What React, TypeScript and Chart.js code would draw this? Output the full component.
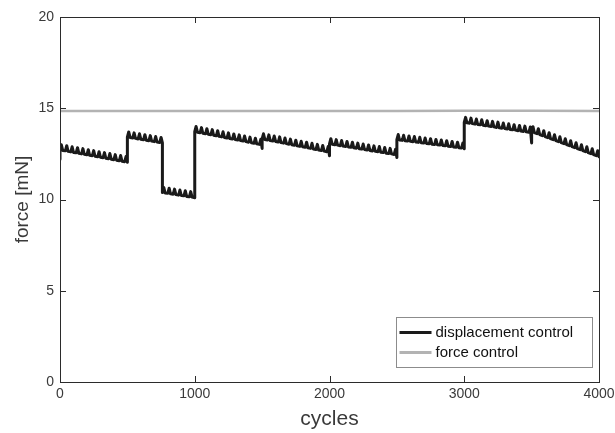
import React, { useEffect, useRef } from "react";
import { Chart, registerables } from "chart.js";

Chart.register(...registerables);

// ---- data ----
const xTickValues = [0, 1000, 2000, 3000, 4000];
const yTickValues = [0, 5, 10, 15, 20];
const baseStep = 20; // cycles between baseline samples inside a segment
const peakStep = 40; // cycles between spikes
const peakOffset = 10; // first spike offset from segment start

// segment start cycles (each segment = baseline samples + spikes on top)
const segmentStarts = [0, 0, 500, 760, 1000, 1500, 2000, 2500, 3000, 3500];

const base0 = [12.2];
const peaks0: number[] = [];
const base1 = [12.72, 12.69, 12.67, 12.64, 12.61, 12.58, 12.56, 12.53, 12.5, 12.48, 12.45, 12.42, 12.4, 12.37, 12.34, 12.32, 12.29, 12.26, 12.23, 12.21, 12.18, 12.15, 12.12, 12.1, 12.07, 12.04];
const peaks1 = [13.0, 12.95, 12.89, 12.84, 12.79, 12.73, 12.68, 12.62, 12.57, 12.52, 12.46, 12.41, 12.35];
const base2 = [13.42, 13.4, 13.37, 13.35, 13.32, 13.3, 13.27, 13.25, 13.22, 13.2, 13.17, 13.15, 13.12, 13.1];
const peaks2 = [13.7, 13.65, 13.6, 13.55, 13.5, 13.45, 13.4];
const base3 = [10.38, 10.36, 10.34, 10.31, 10.29, 10.27, 10.24, 10.22, 10.2, 10.17, 10.15, 10.13, 10.1];
const peaks3 = [10.66, 10.62, 10.57, 10.52, 10.48, 10.43];
const base4 = [13.72, 13.69, 13.66, 13.63, 13.6, 13.58, 13.55, 13.52, 13.49, 13.46, 13.43, 13.4, 13.37, 13.34, 13.31, 13.29, 13.26, 13.23, 13.2, 13.17, 13.14, 13.11, 13.08, 13.05, 13.02, 12.8];
const peaks4 = [14.0, 13.94, 13.88, 13.83, 13.77, 13.71, 13.65, 13.59, 13.54, 13.48, 13.42, 13.36, 13.3];
const base5 = [13.32, 13.29, 13.26, 13.23, 13.2, 13.18, 13.15, 13.12, 13.09, 13.06, 13.03, 13.0, 12.97, 12.94, 12.91, 12.89, 12.86, 12.83, 12.8, 12.77, 12.74, 12.71, 12.68, 12.65, 12.62, 12.4];
const peaks5 = [13.6, 13.54, 13.48, 13.43, 13.37, 13.31, 13.25, 13.19, 13.14, 13.08, 13.02, 12.96, 12.9];
const base6 = [13.05, 13.03, 13.0, 12.98, 12.95, 12.93, 12.9, 12.88, 12.86, 12.83, 12.81, 12.78, 12.76, 12.74, 12.71, 12.69, 12.66, 12.64, 12.62, 12.59, 12.57, 12.54, 12.52, 12.5, 12.47, 12.3];
const peaks6 = [13.33, 13.28, 13.23, 13.18, 13.14, 13.09, 13.04, 12.99, 12.94, 12.9, 12.85, 12.8, 12.75];
const base7 = [13.28, 13.26, 13.24, 13.22, 13.2, 13.19, 13.17, 13.15, 13.13, 13.11, 13.09, 13.07, 13.05, 13.03, 13.01, 13.0, 12.98, 12.96, 12.94, 12.92, 12.9, 12.88, 12.86, 12.84, 12.82, 12.78];
const peaks7 = [13.56, 13.52, 13.48, 13.45, 13.41, 13.37, 13.33, 13.29, 13.26, 13.22, 13.18, 13.14, 13.1];
const base8 = [14.22, 14.2, 14.18, 14.16, 14.13, 14.11, 14.09, 14.07, 14.04, 14.02, 14.0, 13.98, 13.95, 13.93, 13.91, 13.89, 13.86, 13.84, 13.82, 13.8, 13.77, 13.75, 13.73, 13.71, 13.68, 13.1];
const peaks8 = [14.5, 14.46, 14.41, 14.37, 14.32, 14.28, 14.24, 14.19, 14.15, 14.1, 14.06, 14.02, 13.97];
const base9 = [13.72, 13.67, 13.61, 13.56, 13.5, 13.45, 13.39, 13.34, 13.28, 13.23, 13.17, 13.12, 13.06, 13.01, 12.95, 12.9, 12.84, 12.79, 12.73, 12.68, 12.62, 12.57, 12.51, 12.46, 12.4, 12.35];
const peaks9 = [13.99, 13.88, 13.77, 13.66, 13.55, 13.44, 13.33, 13.22, 13.11, 13.0, 12.89, 12.78, 12.67];

const displacementBases = [base0, base1, base2, base3, base4, base5, base6, base7, base8, base9];
const displacementPeaks = [peaks0, peaks1, peaks2, peaks3, peaks4, peaks5, peaks6, peaks7, peaks8, peaks9];

const forceCycles = [0, 500, 1000, 1500, 2000, 2500, 3000, 3500, 4000];
const forceValues = [14.85, 14.85, 14.85, 14.85, 14.85, 14.85, 14.86, 14.86, 14.85];

const FONT = "'Liberation Sans', Arial, Helvetica, sans-serif";
const TEXT = "#3a3a3a";

const boxTicksPlugin = {
  id: "boxTicks",
  afterDraw(chart: any) {
    const { ctx, chartArea } = chart;
    const { left, right, top, bottom } = chartArea;
    const xs = chart.scales.x;
    const ys = chart.scales.y;
    const len = 6;
    ctx.save();
    ctx.strokeStyle = "#2b2b2b";
    ctx.lineWidth = 1;
    ctx.beginPath();
    xTickValues.forEach((v) => {
      const px = Math.round(xs.getPixelForValue(v)) + 0.5;
      ctx.moveTo(px, bottom);
      ctx.lineTo(px, bottom - len);
      ctx.moveTo(px, top);
      ctx.lineTo(px, top + len);
    });
    yTickValues.forEach((v) => {
      const py = Math.round(ys.getPixelForValue(v)) + 0.5;
      ctx.moveTo(left, py);
      ctx.lineTo(left + len, py);
      ctx.moveTo(right, py);
      ctx.lineTo(right - len, py);
    });
    ctx.stroke();
    ctx.strokeRect(Math.round(left) + 0.5, Math.round(top) + 0.5, Math.round(right - left), Math.round(bottom - top));

    // legend
    const bw = 196;
    const bh = 50;
    const bx = Math.round(right - 7 - bw) + 0.5;
    const by = Math.round(bottom - 15 - bh) + 0.5;
    ctx.fillStyle = "#ffffff";
    ctx.fillRect(bx, by, bw, bh);
    ctx.strokeStyle = "#8c8c8c";
    ctx.lineWidth = 1;
    ctx.strokeRect(bx, by, bw, bh);
    ctx.font = `15px ${FONT}`;
    ctx.textBaseline = "middle";
    chart.data.datasets.forEach((ds: any, i: number) => {
      const ly = by + 15 + i * 20;
      ctx.strokeStyle = ds.borderColor;
      ctx.lineWidth = 3;
      ctx.beginPath();
      ctx.moveTo(bx + 3, ly);
      ctx.lineTo(bx + 35, ly);
      ctx.stroke();
      ctx.fillStyle = "#111";
      ctx.fillText(ds.label, bx + 39, ly);
    });
    ctx.restore();
  },
};

export default function App() {
  const ref = useRef<HTMLCanvasElement | null>(null);

  useEffect(() => {
    if (!ref.current) return;
    const displacementPoints: { x: number; y: number }[] = [];
    displacementBases.forEach((bases, s) => {
      const start = segmentStarts[s];
      const pts: { x: number; y: number }[] = [];
      bases.forEach((v, i) => pts.push({ x: start + i * baseStep, y: v }));
      displacementPeaks[s].forEach((v, k) => pts.push({ x: start + peakOffset + k * peakStep, y: v }));
      pts.sort((a, b) => a.x - b.x);
      displacementPoints.push(...pts);
    });
    const forcePoints = forceCycles.map((c, i) => ({ x: c, y: forceValues[i] }));

    const chart = new Chart(ref.current, {
      type: "line",
      data: {
        datasets: [
          {
            label: "displacement control",
            data: displacementPoints,
            borderColor: "#1a1a1a",
            borderWidth: 3,
            borderJoinStyle: "round",
            borderCapStyle: "round",
            pointRadius: 0,
            tension: 0,
          },
          {
            label: "force control",
            data: forcePoints,
            borderColor: "#b3b3b3",
            borderWidth: 2.6,
            pointRadius: 0,
            tension: 0,
          },
        ],
      },
      options: {
        animation: false,
        responsive: false,
        devicePixelRatio: 1,
        layout: { padding: { top: 17, right: 16, left: 0, bottom: 0 } },
        plugins: { legend: { display: false }, tooltip: { enabled: false } },
        scales: {
          x: {
            type: "linear",
            min: 0,
            max: 4000,
            afterBuildTicks: (s: any) => {
              s.ticks = xTickValues.map((v) => ({ value: v }));
            },
            afterFit: (s: any) => {
              s.height = 51;
              s.paddingLeft = 0;
              s.paddingRight = 0;
            },
            ticks: {
              font: { family: FONT, size: 14 },
              color: TEXT,
              padding: 4,
              maxRotation: 0,
              callback: (v: any) => String(v),
            },
            grid: { display: true, drawOnChartArea: false, drawTicks: false },
            border: { display: false },
            title: {
              display: true,
              text: "cycles",
              font: { family: FONT, size: 21 },
              color: TEXT,
              padding: { top: 0, bottom: 1 },
            },
          },
          y: {
            type: "linear",
            min: 0,
            max: 20,
            afterBuildTicks: (s: any) => {
              s.ticks = yTickValues.map((v) => ({ value: v }));
            },
            afterFit: (s: any) => {
              s.width = 60;
              s.paddingTop = 0;
              s.paddingBottom = 0;
            },
            ticks: { font: { family: FONT, size: 14 }, color: TEXT, padding: 6, callback: (v: any) => String(v) },
            grid: { display: true, drawOnChartArea: false, drawTicks: false },
            border: { display: false },
            title: {
              display: true,
              text: "force [mN]",
              font: { family: FONT, size: 19 },
              color: TEXT,
              padding: { top: 11, bottom: 0 },
            },
          },
        },
      },
      plugins: [boxTicksPlugin],
    });
    return () => chart.destroy();
  }, []);

  return (
    <div style={{ position: "fixed", left: 0, top: 0, width: 615, height: 433, background: "#fff" }}>
      <canvas ref={ref} width={615} height={433} style={{ display: "block" }} />
    </div>
  );
}
